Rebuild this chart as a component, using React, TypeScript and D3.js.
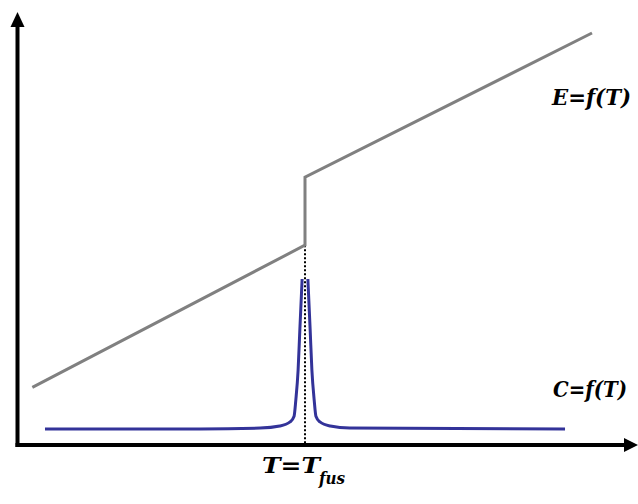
import React from "react";
import * as d3 from "d3";

// Data (arbitrary units: T on x, value on y), Tfus = 50
const T_FUS = 50;
const energySeries: [number, number][] = [
  [2.5, 14.0],
  [50, 48.5],
  [50, 65.0],
  [100, 100],
];
const heatCapLeft: [number, number][] = [
  [4.7, 3.9],
  [31.7, 3.9],
  [42.2, 4.1],
  [45.6, 4.6],
  [47.4, 5.6],
  [48.1, 7.0],
  [48.4, 10.9],
  [48.8, 18.2],
  [49.1, 27.9],
  [49.5, 40.3],
];
const heatCapRight: [number, number][] = [
  [50.5, 40.3],
  [50.9, 27.9],
  [51.2, 18.2],
  [51.6, 10.9],
  [51.9, 7.0],
  [52.6, 5.6],
  [54.4, 4.6],
  [57.8, 4.1],
  [95.3, 3.9],
];
const labelE = "E=f(T)";
const labelC = "C=f(T)";
const labelT = "T=T";
const labelSub = "fus";

export default function App() {
  const W = 638;
  const H = 504;
  const x = d3.scaleLinear().domain([0, 100]).range([18, 592]);
  const y = d3.scaleLinear().domain([0, 100]).range([445, 33]);

  const line = d3
    .line<[number, number]>()
    .x((d) => x(d[0]))
    .y((d) => y(d[1]));
  const curve = d3
    .line<[number, number]>()
    .x((d) => x(d[0]))
    .y((d) => y(d[1]))
    .curve(d3.curveMonotoneX);

  const ox = x(0) - 0.5;
  const oy = y(0);
  const textStyle: React.CSSProperties = {
    fontFamily: '"DejaVu Serif", serif',
    fontWeight: 700,
    fontStyle: "italic",
    fontSize: "23px",
  };

  return (
    <svg
      width={W}
      height={H}
      style={{ position: "absolute", left: 0, top: 0, background: "#fff" }}
    >
      {/* dotted line at Tfus */}
      <line
        x1={x(T_FUS)}
        x2={x(T_FUS)}
        y1={y(energySeries[1][1])}
        y2={oy}
        stroke="#000"
        strokeWidth={2}
        strokeDasharray="2,2"
      />
      {/* E curve */}
      <path d={line(energySeries) || ""} fill="none" stroke="#808080" strokeWidth={3} />
      {/* C curve */}
      <path d={curve(heatCapLeft) || ""} fill="none" stroke="#333399" strokeWidth={3} />
      <path d={curve(heatCapRight) || ""} fill="none" stroke="#333399" strokeWidth={3} />

      {/* axes */}
      <line x1={ox} x2={ox} y1={oy + 2} y2={26} stroke="#000" strokeWidth={4} />
      <path d={`M${ox - 7},${27} L${ox},${12} L${ox + 7},${27} Z`} fill="#000" />
      <line x1={ox - 2} x2={625} y1={oy} y2={oy} stroke="#000" strokeWidth={4} />
      <path d={`M${624},${oy - 7} L${638},${oy} L${624},${oy + 7} Z`} fill="#000" />

      {/* labels */}
      <text x={552} y={105} style={textStyle} textLength={79} lengthAdjust="spacingAndGlyphs">
        {labelE}
      </text>
      <text x={553} y={397} style={textStyle} textLength={74} lengthAdjust="spacingAndGlyphs">
        {labelC}
      </text>
      <text x={262} y={473} style={textStyle} textLength={58} lengthAdjust="spacingAndGlyphs">
        {labelT}
      </text>
      <text
        x={319}
        y={484}
        style={{ ...textStyle, fontSize: "16px" }}
        textLength={26}
        lengthAdjust="spacingAndGlyphs"
      >
        {labelSub}
      </text>
    </svg>
  );
}
